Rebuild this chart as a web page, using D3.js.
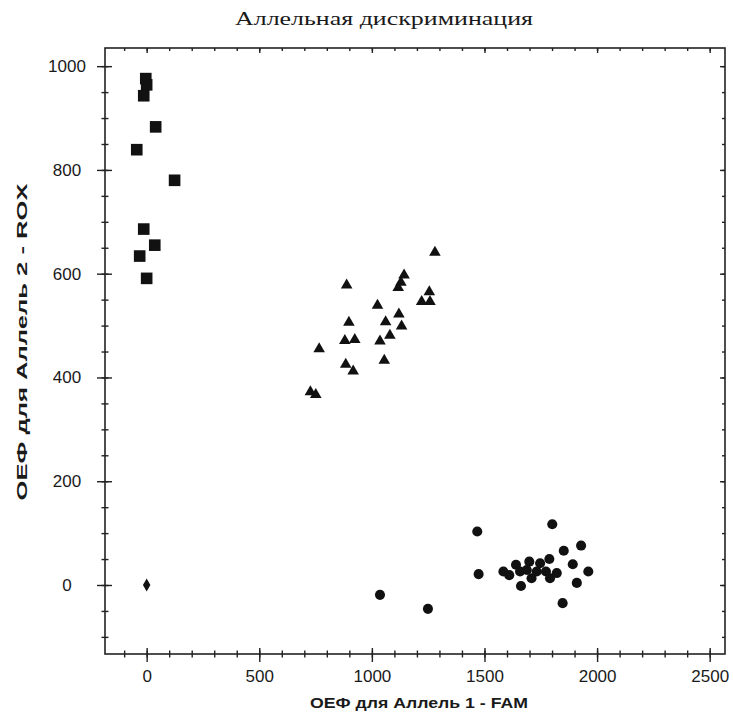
<!DOCTYPE html>
<html>
<head>
<meta charset="utf-8">
<title>Аллельная дискриминация</title>
<script src="https://cdn.jsdelivr.net/npm/d3@7"></script>
<style>
    body { margin: 0; background: #fff; }
    text { font-family: "Liberation Sans", Arial, sans-serif; fill: #1a1a1a; }
</style>
</head>
<body>
<svg></svg>
<script>
    const width = 733;
    const height = 725;
    const padding = { top: 48, right: 8, bottom: 71, left: 105 };

    // allele 2 homozygotes (squares)
    const allele2 = [[-4, 976], [0, 964], [-13, 943], [40, 883], [-44, 839], [124, 780],
        [-13, 686], [36, 655], [-31, 634], [0, 591]];
    // heterozygotes (triangles)
    const hetero = [[1280, 641], [1143, 597], [1129, 583], [1117, 573], [888, 578], [1255, 565],
        [1221, 546], [1258, 546], [1025, 539], [1120, 522], [1132, 499], [1061, 507], [898, 506],
        [1080, 481], [1036, 470], [880, 471], [924, 473], [766, 455], [1055, 433], [884, 425],
        [917, 412], [727, 372], [751, 367]];
    // allele 1 homozygotes (circles)
    const allele1 = [[1468, 103], [1801, 117], [1474, 21], [1929, 76], [1852, 66], [1892, 40],
        [1961, 26], [1910, 4], [1847, -35], [1662, -2], [1584, 26], [1610, 19], [1640, 39],
        [1658, 26], [1699, 45], [1709, 13], [1747, 42], [1788, 50], [1773, 26], [1791, 13],
        [1821, 23], [1732, 26], [1688, 29], [1036, -19], [1249, -46]];
    // no template control (diamond)
    const ntc = [[0, 0]];

    const xTicks = [0, 500, 1000, 1500, 2000, 2500];
    const yTicks = [0, 200, 400, 600, 800, 1000];
    const xMinor = d3.range(-100, 2600, 100);
    const yMinor = d3.range(-100, 1050, 50);

    const innerW = width - padding.left - padding.right;
    const innerH = height - padding.top - padding.bottom;

    let svg = d3.select("svg")
        .attr("width", width)
        .attr("height", height);

    let g = svg.append("g")
        .attr("transform", "translate(" + padding.left + "," + padding.top + ")");

    let xScale = d3.scaleLinear().domain([-185, 2568]).range([0, innerW]);
    let yScale = d3.scaleLinear().domain([-133, 1035]).range([innerH, 0]);

    // frame
    g.append("rect")
        .attr("width", innerW)
        .attr("height", innerH)
        .attr("fill", "none")
        .attr("stroke", "#222")
        .attr("stroke-width", 1.6);

    function tickAxis(axis, transform) {
        let a = g.append("g").attr("transform", transform).call(axis);
        a.select(".domain").remove();
        a.selectAll("line").attr("stroke", "#222").attr("stroke-width", 1.4);
        return a;
    }

    // bottom axis: crossing ticks
    let xb = tickAxis(d3.axisBottom(xScale).tickValues(xTicks).tickSize(8).tickPadding(8).tickFormat(d3.format("d")),
        "translate(0," + innerH + ")");
    xb.selectAll("text").attr("font-size", 17).attr("fill", "#1a1a1a");
    tickAxis(d3.axisTop(xScale).tickValues(xTicks).tickSize(6).tickFormat(""), "translate(0," + innerH + ")");
    tickAxis(d3.axisBottom(xScale).tickValues(xMinor).tickSize(3.5).tickFormat(""), "translate(0," + innerH + ")");
    tickAxis(d3.axisTop(xScale).tickValues(xMinor).tickSize(3.5).tickFormat(""), "translate(0," + innerH + ")");
    // top border ticks (inward)
    tickAxis(d3.axisBottom(xScale).tickValues(xTicks).tickSize(5).tickFormat(""), "translate(0,0)");
    tickAxis(d3.axisBottom(xScale).tickValues(xMinor).tickSize(3).tickFormat(""), "translate(0,0)");

    // left axis: crossing ticks, labels centered
    let yl = tickAxis(d3.axisLeft(yScale).tickValues(yTicks).tickSize(8).tickPadding(0).tickFormat(d3.format("d")),
        "translate(0,0)");
    yl.selectAll("text")
        .attr("font-size", 17)
        .attr("text-anchor", "middle")
        .attr("x", -38)
        .attr("fill", "#1a1a1a");
    tickAxis(d3.axisRight(yScale).tickValues(yTicks).tickSize(7).tickFormat(""), "translate(0,0)");
    tickAxis(d3.axisLeft(yScale).tickValues(yMinor).tickSize(3.5).tickFormat(""), "translate(0,0)");
    tickAxis(d3.axisRight(yScale).tickValues(yMinor).tickSize(3.5).tickFormat(""), "translate(0,0)");
    // right border ticks (inward)
    tickAxis(d3.axisLeft(yScale).tickValues(yTicks).tickSize(5).tickFormat(""), "translate(" + innerW + ",0)");
    tickAxis(d3.axisLeft(yScale).tickValues(yMinor).tickSize(3).tickFormat(""), "translate(" + innerW + ",0)");

    // markers
    const groups = [
        { data: allele2, type: d3.symbolSquare, size: 135 },
        { data: hetero, type: d3.symbolTriangle, size: 58 },
        { data: allele1, type: d3.symbolCircle, size: 80 },
        { data: ntc, type: d3.symbolDiamond, size: 48 }
    ];

    groups.forEach((grp) => {
        g.append("g").selectAll("path")
            .data(grp.data)
            .enter()
            .append("path")
            .attr("transform", (d) => "translate(" + xScale(d[0]) + "," + yScale(d[1]) + ")")
            .attr("d", d3.symbol().type(grp.type).size(grp.size))
            .attr("fill", "#111");
    });

    // title and axis labels
    svg.append("text")
        .attr("x", 384)
        .attr("y", 25)
        .attr("text-anchor", "middle")
        .style("font-family", "'Liberation Serif', 'Times New Roman', serif")
        .attr("font-size", 19)
        .attr("textLength", 298)
        .attr("lengthAdjust", "spacingAndGlyphs")
        .text("Аллельная дискриминация");

    svg.append("text")
        .attr("x", 419)
        .attr("y", 708)
        .attr("text-anchor", "middle")
        .attr("font-weight", "bold")
        .attr("font-size", 15)
        .attr("textLength", 218)
        .attr("lengthAdjust", "spacingAndGlyphs")
        .text("ОЕФ для Аллель 1 - FAM");

    svg.append("text")
        .attr("transform", "translate(27,342) rotate(-90)")
        .attr("text-anchor", "middle")
        .attr("font-weight", "bold")
        .attr("font-size", 15)
        .attr("textLength", 317)
        .attr("lengthAdjust", "spacingAndGlyphs")
        .text("ОЕФ для Аллель 2 - ROX");
</script>
</body>
</html>
